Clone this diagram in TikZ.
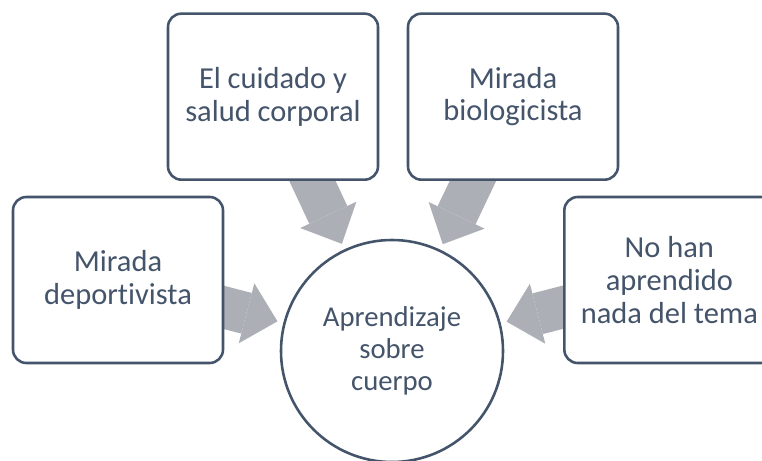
\documentclass[tikz,border=0pt]{standalone}
\usepackage{fontspec}
\setmainfont{Carlito}[Ligatures={NoCommon}]
\usetikzlibrary{arrows.meta,backgrounds}
\definecolor{ink}{HTML}{44546A}
\definecolor{flowgray}{HTML}{ACAFB6}

\begin{document}
\begin{tikzpicture}[
  x=1cm, y=1cm,
  topic/.style={draw=ink, fill=white, rounded corners=4mm, line width=2.2pt,
                minimum width=6.3cm, minimum height=4.98cm, inner sep=0pt,
                align=center, text=ink, font=\fontsize{26}{27.9}\selectfont},
  hub/.style={circle, draw=ink, fill=white, line width=2.2pt, inner sep=0pt,
              minimum size=6.66cm, align=center, text=ink,
              font=\fontsize{24.5}{27.3}\selectfont},
  flow/.style={draw=flowgray, line width=1.26cm,
               -{Triangle[length=0.96cm, width=1.86cm, line width=0pt]},
               shorten <=-4mm, shorten >=1.8mm},
]
\useasboundingbox (0,0) rectangle (22.86,-13.83);

%% ---------------- outer topics ----------------
\node[topic] (dep) at (3.54, -8.40)  {Mirada\\deportivista};
\node[topic] (cui) at (8.19, -2.90)  {El cuidado y\\salud corporal};
\node[topic] (bio) at (15.39, -2.90) {Mirada\\biologicista};
\node[topic] (nad) at (20.08, -8.40) {No han\\aprendido\\nada del tema};

%% ---------------- centre ----------------
\node[hub] (cen) at (11.76, -10.53) {Aprendizaje\\sobre\\cuerpo};

%% ---------------- block arrows (behind the boxes) ----------------
\begin{scope}[on background layer]
  \draw[flow] (dep) -- (cen);
  \draw[flow] (cui) -- (cen);
  \draw[flow] (bio) -- (cen);
  \draw[flow] (nad) -- (cen);
\end{scope}

\end{tikzpicture}
\end{document}
